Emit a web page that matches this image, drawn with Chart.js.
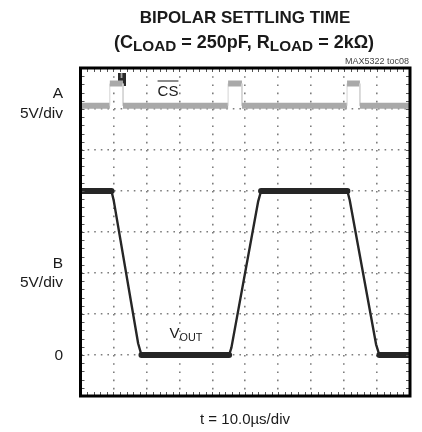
<!DOCTYPE html>
<html><head><meta charset="utf-8">
<script src="https://cdn.jsdelivr.net/npm/chart.js@4.4.0/dist/chart.umd.min.js"></script>
<style>
html,body{margin:0;padding:0;background:#fff;}
#wrap{position:relative;width:422px;height:432px;overflow:hidden;font-family:"Liberation Sans",Arial,sans-serif;color:#1a1a1a;}
canvas{position:absolute;left:0;top:0;}
.t{position:absolute;white-space:nowrap;line-height:1;}
.c{transform:translate(-50%,-50%);}
.r{transform:translate(-100%,-50%);}
.sub{font-size:0.72em;position:relative;top:0.28em;}
#title2 .sub{font-size:0.85em;top:0.2em;}
</style></head><body>
<div id="wrap">
<canvas id="c" width="422" height="432"></canvas>
<div class="t c" id="title1" style="left:245px;top:17px;font-weight:bold;font-size:17px;"></div>
<div class="t c" id="title2" style="left:244px;top:42px;font-weight:bold;font-size:18px;"></div>
<div class="t r" id="tag" style="left:409px;top:61px;font-size:9px;color:#444;"></div>
<div class="t r" id="labA" style="left:63px;top:93px;font-size:15.5px;"></div>
<div class="t r" id="scaleA" style="left:63px;top:113px;font-size:15.5px;"></div>
<div class="t r" id="labB" style="left:63px;top:263px;font-size:15.5px;"></div>
<div class="t r" id="scaleB" style="left:63px;top:282px;font-size:15.5px;"></div>
<div class="t r" id="zero" style="left:63px;top:355px;font-size:15.5px;"></div>
<div class="t c" id="cs" style="left:168px;top:90px;font-size:15px;font-family:'Liberation Sans Narrow','Liberation Sans',sans-serif;text-decoration:overline;"></div>
<div class="t c" id="vout" style="left:186px;top:332px;font-size:15px;font-family:'Liberation Sans Narrow','Liberation Sans',sans-serif;"></div>
<div class="t c" id="xlab" style="left:245px;top:418px;font-size:15px;"></div>
</div>
<script>
// ---- text ----
const titleLine1 = "BIPOLAR SETTLING TIME";
const titleLine2Parts = ["(C", "LOAD", " = 250pF, R", "LOAD", " = 2kΩ)"];
const figureTag = "MAX5322 toc08";
const channelLabels = ["A", "B"];
const channelScales = ["5V/div", "5V/div"];
const zeroLabel = "0";
const csLabel = "CS";
const voutLabel = ["V", "OUT"];
const timeLabel = "t = 10.0µs/div";

// ---- axes (x in µs, y in volts of channel B, 5 V/div) ----
const xTickValues = [0, 10, 20, 30, 40, 50, 60, 70, 80, 90, 100];
const yTickValues = [-5, 0, 5, 10, 15, 20, 25, 30, 35];

// ---- VOUT trace (channel B) ----
const voutTime  = [0, 9.4, 10.1, 17.5, 18.5, 45.1, 45.8, 53.9, 54.8, 81.0, 81.7, 89.7, 90.7, 100];
const voutVolts = [20, 20, 18.8, 1.4, 0, 0, 0.9, 18.7, 20, 20, 18.9, 1.3, 0, 0];

// ---- CS trace (channel A, drawn on screen scale) ----
const csTime  = [0, 8.9, 8.9, 12.9, 12.9, 44.8, 44.8, 49.0, 49.0, 80.9, 80.9, 84.8, 84.8, 100];
const csLevel = [30.4, 30.4, 33.1, 33.1, 30.4, 30.4, 33.1, 33.1, 30.4, 30.4, 33.1, 33.1, 30.4, 30.4];

// ---- trigger marker ----
const trigTime = [12.5];
const trigLevel = [33.6];

// text into DOM
document.getElementById('title1').textContent = titleLine1;
document.getElementById('title2').innerHTML = titleLine2Parts.map((p,i)=> i%2 ? '<span class="sub">'+p+'</span>' : p).join('');
document.getElementById('tag').textContent = figureTag;
document.getElementById('labA').textContent = channelLabels[0];
document.getElementById('labB').textContent = channelLabels[1];
document.getElementById('scaleA').textContent = channelScales[0];
document.getElementById('scaleB').textContent = channelScales[1];
document.getElementById('zero').textContent = zeroLabel;
document.getElementById('cs').textContent = csLabel;
document.getElementById('vout').innerHTML = voutLabel[0] + '<span class="sub">' + voutLabel[1] + '</span>';
document.getElementById('xlab').textContent = timeLabel;

const trigImg = document.createElement('canvas');
trigImg.width = 8; trigImg.height = 13;
(function(){ const g = trigImg.getContext('2d'); g.fillStyle = '#2a2a2a'; g.fillRect(0,0,8,13); g.fillStyle = '#bbb'; g.fillRect(3,0,1.5,5); })();

const toXY = (xs, ys) => xs.map((x,i)=>({x:x, y:ys[i]}));

const framePlugin = {
  id: 'frame',
  afterDatasetsDraw(chart) {
    const {ctx, chartArea:a, scales} = chart;
    ctx.save();
    ctx.strokeStyle = '#555';
    ctx.lineWidth = 1;
    const xs = scales.x, ys = scales.y;
    for (let i = 0; i <= 50; i++) {
      const px = Math.round(xs.getPixelForValue(xs.min + i * (xs.max - xs.min) / 50)) + 0.5;
      ctx.beginPath(); ctx.moveTo(px, a.top); ctx.lineTo(px, a.top + 4);
      ctx.moveTo(px, a.bottom); ctx.lineTo(px, a.bottom - 4); ctx.stroke();
    }
    for (let i = 0; i <= 40; i++) {
      const py = Math.round(ys.getPixelForValue(ys.min + i * (ys.max - ys.min) / 40)) + 0.5;
      ctx.beginPath(); ctx.moveTo(a.left, py); ctx.lineTo(a.left + 4, py);
      ctx.moveTo(a.right, py); ctx.lineTo(a.right - 4, py); ctx.stroke();
    }
    ctx.strokeStyle = '#000';
    ctx.lineWidth = 3;
    ctx.strokeRect(a.left, a.top, a.right - a.left, a.bottom - a.top);
    ctx.restore();
  }
};

new Chart(document.getElementById('c'), {
  type: 'line',
  data: {
    datasets: [
      {
        label: 'CS', data: toXY(csTime, csLevel),
        borderColor: '#a9a9a9', borderWidth: 6, pointRadius: 0, tension: 0,
        segment: {
          borderWidth: c => c.p0.parsed.x === c.p1.parsed.x ? 1 : 6,
          borderColor: c => c.p0.parsed.x === c.p1.parsed.x ? '#d4d4d4' : '#a9a9a9'
        }
      },
      {
        label: 'VOUT', data: toXY(voutTime, voutVolts),
        borderColor: '#262626', borderWidth: 2, pointRadius: 0, tension: 0,
        borderJoinStyle: 'round', borderCapStyle: 'round',
        segment: {
          borderWidth: c => c.p0.parsed.y === c.p1.parsed.y ? 6 : 2.4
        }
      },
      {
        type: 'scatter', label: 'trigger', data: toXY(trigTime, trigLevel),
        pointStyle: trigImg, pointRadius: 5, showLine: false
      }
    ]
  },
  options: {
    responsive: false, animation: false,
    layout: { padding: { left: 80.5, right: 12, top: 68, bottom: 36 } },
    plugins: { legend: { display: false }, tooltip: { enabled: false }, title: { display: false } },
    scales: {
      x: {
        type: 'linear', min: xTickValues[0], max: xTickValues[xTickValues.length-1],
        afterBuildTicks: s => { s.ticks = xTickValues.map(v => ({value: v})); },
        ticks: { display: false },
        grid: { color: '#7d7d7d', lineWidth: 1.6, drawTicks: false },
        border: { display: false, dash: [1.6, 6.6] }
      },
      y: {
        type: 'linear', min: yTickValues[0], max: yTickValues[yTickValues.length-1],
        afterBuildTicks: s => { s.ticks = yTickValues.map(v => ({value: v})); },
        ticks: { display: false },
        grid: { color: '#7d7d7d', lineWidth: 1.6, drawTicks: false },
        border: { display: false, dash: [1.6, 5.0] }
      }
    }
  },
  plugins: [framePlugin]
});
</script>
</body></html>
